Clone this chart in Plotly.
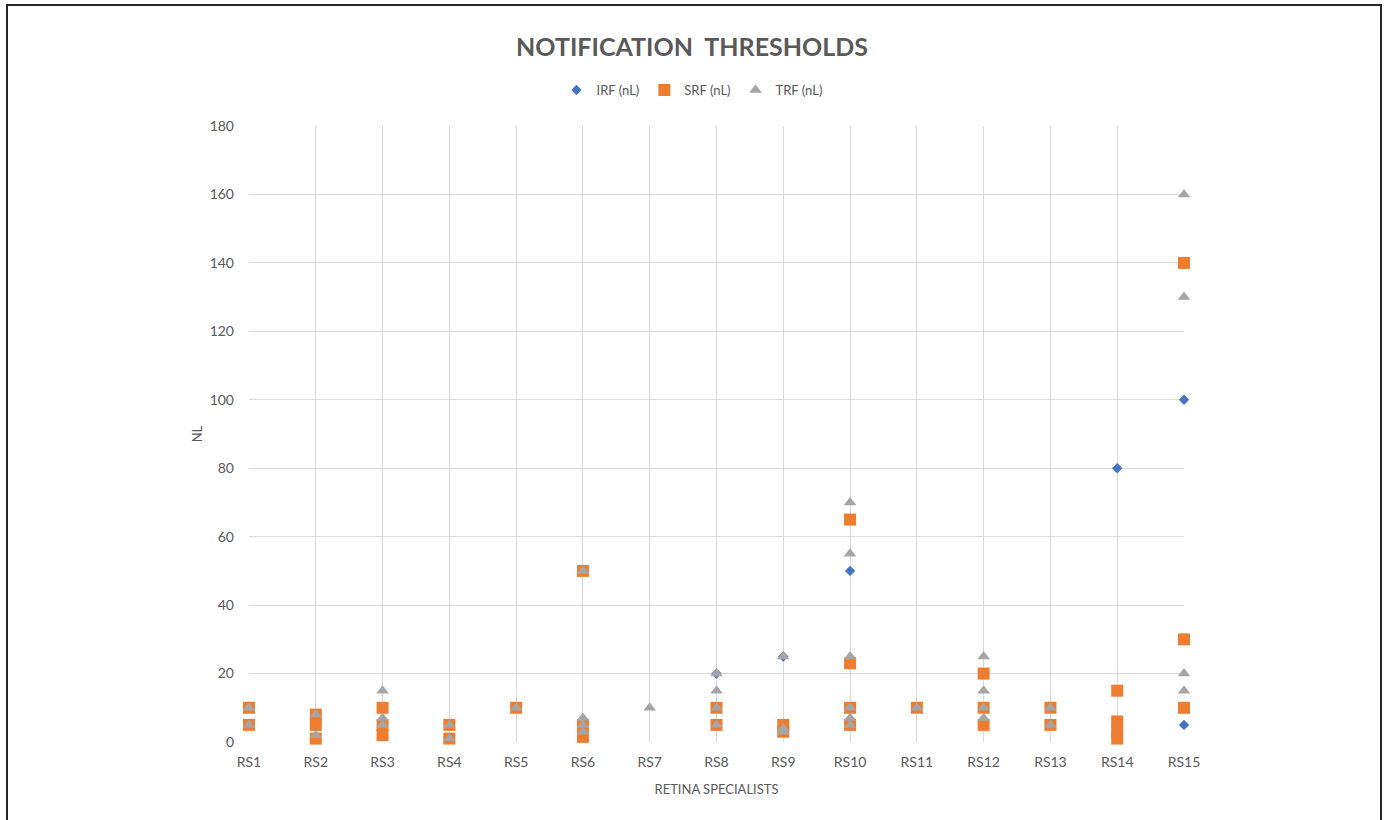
import plotly.graph_objects as go

# Category axis
specialists = [f"RS{i}" for i in range(1, 16)]

# IRF thresholds (nL)
irf_rs = ["RS8", "RS9", "RS10", "RS14", "RS15", "RS15"]
irf_nl = [20, 25, 50, 80, 100, 5]

# SRF thresholds (nL)
srf_rs = ["RS1", "RS1",
          "RS2", "RS2", "RS2",
          "RS3", "RS3", "RS3",
          "RS4", "RS4",
          "RS5",
          "RS6", "RS6", "RS6",
          "RS8", "RS8",
          "RS9", "RS9",
          "RS10", "RS10", "RS10", "RS10",
          "RS11",
          "RS12", "RS12", "RS12",
          "RS13", "RS13",
          "RS14", "RS14", "RS14", "RS14",
          "RS15", "RS15", "RS15"]
srf_nl = [10, 5,
          8, 5, 1,
          10, 5, 2,
          5, 1,
          10,
          50, 5, 1.5,
          10, 5,
          5, 3,
          65, 23, 10, 5,
          10,
          20, 10, 5,
          10, 5,
          15, 6, 3, 1,
          140, 30, 10]

# TRF thresholds (nL)
trf_rs = ["RS1", "RS1",
          "RS2", "RS2",
          "RS3", "RS3", "RS3",
          "RS4", "RS4",
          "RS5",
          "RS6", "RS6", "RS6", "RS6",
          "RS7",
          "RS8", "RS8", "RS8", "RS8",
          "RS9", "RS9", "RS9",
          "RS10", "RS10", "RS10", "RS10", "RS10", "RS10",
          "RS11",
          "RS12", "RS12", "RS12", "RS12",
          "RS13", "RS13",
          "RS15", "RS15", "RS15", "RS15"]
trf_nl = [10, 5,
          8, 2,
          15, 7, 5,
          5, 1,
          10,
          50, 7, 5, 3,
          10,
          20, 15, 10, 5,
          25, 4, 3,
          70, 55, 25, 10, 7, 5,
          10,
          25, 15, 10, 7,
          10, 5,
          160, 130, 20, 15]

y_ticks = [0, 20, 40, 60, 80, 100, 120, 140, 160, 180]

TEXT = "#595959"
GRID = "#D9D9D9"
FONT = "Lato"

fig = go.Figure()
fig.add_trace(go.Scatter(
    x=irf_rs, y=irf_nl, mode="markers", name="IRF (nL)", cliponaxis=False,
    marker=dict(symbol="diamond", size=8, color="#4472C4"),
))
fig.add_trace(go.Scatter(
    x=srf_rs, y=srf_nl, mode="markers", name="SRF (nL)", cliponaxis=False,
    marker=dict(symbol="square", size=12, color="#ED7D31"),
))
fig.add_trace(go.Scatter(
    x=trf_rs, y=trf_nl, mode="markers", name="TRF (nL)", cliponaxis=False,
    marker=dict(symbol="triangle-up", size=11, color="#A5A5A5"),
))

W, H = 1384, 820
ml, mr, mt, mb = 249, 200, 126, 78
pw, ph = W - ml - mr, H - mt - mb

# outer frame around the chart (bottom edge runs past the page)
fig.add_shape(
    type="rect", xref="paper", yref="paper",
    x0=(7 - ml) / pw, x1=(1381 - ml) / pw,
    y0=-(mb + 6) / ph,
    y1=(H - mb - 5) / ph,
    line=dict(color="#262626", width=2), fillcolor="rgba(0,0,0,0)",
)

fig.update_layout(
    width=W, height=H,
    margin=dict(l=ml, r=mr, t=mt, b=mb),
    paper_bgcolor="white", plot_bgcolor="white",
    font=dict(family=FONT, color=TEXT, size=14),
    title=dict(
        text="<b>NOTIFICATION\u00a0\u00a0THRESHOLDS</b>",
        x=0.5, xref="container", xanchor="center",
        y=1 - 47 / H, yref="container", yanchor="middle",
        font=dict(family=FONT, size=25, color=TEXT),
    ),
    legend=dict(
        orientation="h", x=0.5, xref="container", xanchor="center",
        y=1 - 90 / H, yref="container", yanchor="middle",
        font=dict(family=FONT, size=13, color=TEXT),
        itemwidth=30, tracegroupgap=0,
    ),
    xaxis=dict(
        type="category", categoryorder="array", categoryarray=specialists,
        range=[0, 14], showgrid=True, gridcolor=GRID, gridwidth=1,
        showline=False, zeroline=False, ticks="",
        ticklabelstandoff=10,
        tickfont=dict(family=FONT, size=14, color=TEXT),
        title=dict(text="RETINA SPECIALISTS", standoff=15,
                   font=dict(family=FONT, size=13, color=TEXT)),
    ),
    yaxis=dict(
        range=[0, 180], tickvals=y_ticks, showgrid=True, gridcolor=GRID,
        gridwidth=1, zeroline=False, showline=False, ticks="",
        ticklabelstandoff=14,
        tickfont=dict(family=FONT, size=14, color=TEXT),
        title=dict(text="NL", standoff=4,
                   font=dict(family=FONT, size=13, color=TEXT)),
    ),
)

fig.write_html("out.html")
